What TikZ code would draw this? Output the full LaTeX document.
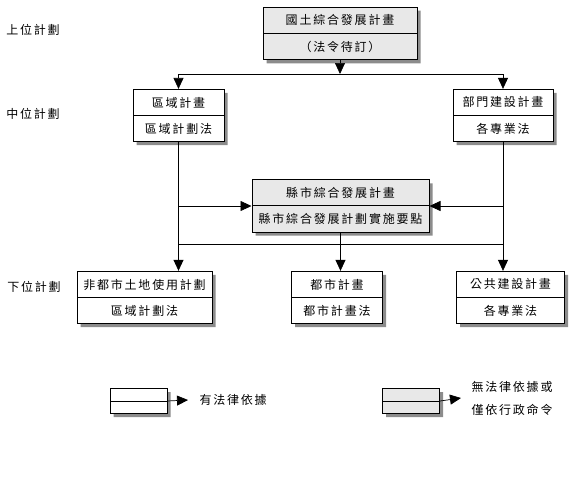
\documentclass[tikz,border=0pt]{standalone}
\usepackage{fontspec}
\setmainfont{Noto Sans CJK TC}[LetterSpace=15]
\usetikzlibrary{arrows.meta, positioning, shapes.multipart, shadows}

\begin{document}
\begin{tikzpicture}[x=1pt, y=-1pt,
  plan/.style={rectangle split, rectangle split parts=2, draw, line width=1pt,
    fill=white, align=center, inner xsep=0pt, inner ysep=7pt,
    font=\fontsize{12}{14}\selectfont,
    drop shadow={shadow xshift=3.5pt, shadow yshift=-3.5pt, fill=black!45, opacity=1}},
  noplan/.style={plan, fill=gray!18},
  legbox/.style={inner ysep=5.75pt, text width=57pt},
  link/.style={line width=0.7pt},
  tip/.style={link, -{Triangle[length=11pt,width=10pt]}},
  level/.style={font=\fontsize{12}{23}\selectfont}]
  \useasboundingbox (0,0) rectangle (571,477);

  \node[level] (upper) at (33,30) {上位計劃};
  \node[level] (middle) at (33,114) {中位計劃};
  \node[level] (lower) at (34,287) {下位計劃};

  \node[noplan, text width=154pt] (nation) at (340,33.5) {國土綜合發展計畫 \nodepart{two} （法令待訂）};
  \node[plan, text width=91pt] (region) at (178.5,115.5) {區域計畫 \nodepart{two} 區域計劃法};
  \node[plan, text width=100pt] (dept) at (503,115.5) {部門建設計畫 \nodepart{two} 各專業法};
  \node[noplan, text width=177pt] (county) at (340.5,206) {縣市綜合發展計畫 \nodepart{two} 縣市綜合發展計劃實施要點};
  \node[plan, text width=135pt] (nonurban) at (144.5,297.5) {非都市土地使用計劃 \nodepart{two} 區域計劃法};
  \node[plan, text width=91pt] (urban) at (337,297.5) {都市計畫 \nodepart{two} 都市計畫法};
  \node[plan, text width=108pt] (public) at (510.5,297.5) {公共建設計畫 \nodepart{two} 各專業法};

  \coordinate (busA) at (340,74);
  \coordinate (busB) at (340,244);
  \draw[tip] (nation) -- (busA);
  \draw[link] (region |- busA) -- (dept |- busA);
  \draw[tip] (region |- busA) -- (region);
  \draw[tip] (dept |- busA) -- (dept);
  \draw[tip] (region) -- (region |- nonurban.north);
  \draw[tip] (dept) -- (dept |- public.north);
  \draw[tip] (region |- county) -- (county);
  \draw[tip] (dept |- county) -- (county);
  \draw[link] (region |- busB) -- (dept |- busB);
  \draw[tip] (county.south) -- (county.south |- urban.north);

  \node[plan, legbox] (legLaw) at (138.5,401) {\nodepart{two}};
  \node[level, anchor=west] (lawText) at (196,400) {有法律依據};
  \draw[tip] (legLaw.east) -- ([xshift=-8pt]lawText.west);
  \node[noplan, legbox] (legNoLaw) at (411,401) {\nodepart{two}};
  \node[level, anchor=west, align=left] (noLawText) at (468,398) {無法律依據或\\僅依行政命令};
  \draw[tip] (legNoLaw.east) -- ([xshift=-7pt]noLawText.west);
\end{tikzpicture}
\end{document}
